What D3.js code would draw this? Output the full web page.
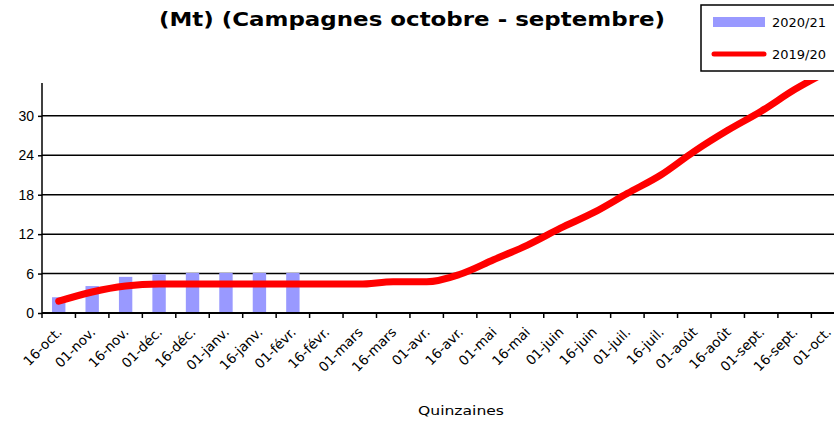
<!DOCTYPE html>
<html>
<head>
<meta charset="utf-8">
<script src="https://cdn.jsdelivr.net/npm/d3@7"></script>
<style>
  body { margin: 0; background: #fff; }
  svg { display: block; font-family: "DejaVu Sans", Verdana, sans-serif; }
</style>
</head>
<body>
<svg id="chart" width="834" height="423"></svg>
<script>
// quinzaines, campagne octobre - septembre
var quinzaines = ["16-oct.", "01-nov.", "16-nov.", "01-déc.", "16-déc.", "01-janv.", "16-janv.", "01-févr.",
  "16-févr.", "01-mars", "16-mars", "01-avr.", "16-avr.", "01-mai", "16-mai", "01-juin", "16-juin",
  "01-juil.", "16-juil.", "01-août", "16-août", "01-sept.", "16-sept.", "01-oct.", ""]
var camp2021 = [2.4, 4.1, 5.5, 5.9, 6.1, 6.1, 6.1, 6.1]
var camp1920 = [1.8, 3.2, 4.1, 4.4, 4.4, 4.4, 4.4, 4.4, 4.4, 4.4, 4.75, 4.75, 5.9, 8.1, 10.3,
  12.9, 15.3, 18.2, 21.0, 24.6, 27.8, 30.7, 34.0, 36.8]
var yTicks = [0, 6, 12, 18, 24, 30]
var seriesNames = ["2020/21", "2019/20"]

var svg = d3.select("#chart")
var plotLeft = 42, plotBottom = 313, plotTop = 83
var x = d3.scaleBand().domain(d3.range(quinzaines.length)).range([plotLeft, plotLeft + quinzaines.length * 33.45])
var y = d3.scaleLinear().domain([0, 35]).range([plotBottom, plotTop])
var plotRight = x.range()[1]

// titre
svg.append("text")
  .attr("x", 412).attr("y", 26)
  .attr("text-anchor", "middle")
  .attr("textLength", 506).attr("lengthAdjust", "spacingAndGlyphs")
  .style("font-size", "20px").style("font-weight", "bold")
  .text("(Mt) (Campagnes octobre - septembre)")

// grille
svg.append("g").selectAll("line")
  .data(yTicks.filter(d => d > 0))
  .enter().append("line")
  .attr("x1", plotLeft).attr("x2", plotRight)
  .attr("y1", d => y(d)).attr("y2", d => y(d))
  .attr("stroke", "#000").attr("stroke-width", 1.5)

// barres 2020/21
var bw = x.bandwidth() * 0.4
svg.append("g").selectAll("rect")
  .data(camp2021)
  .enter().append("rect")
  .attr("x", (d, i) => x(i) + (x.bandwidth() - bw) / 2)
  .attr("width", bw)
  .attr("y", d => y(d))
  .attr("height", d => plotBottom - y(d))
  .attr("fill", "#9999ff")

// axe Y
var yAxis = svg.append("g")
  .attr("transform", "translate(" + plotLeft + ",0)")
  .call(d3.axisLeft(y).tickValues(yTicks).tickSize(4).tickPadding(4))
yAxis.select(".domain").attr("d", "M0," + plotTop + "V" + plotBottom).attr("stroke-width", 1.5)
yAxis.selectAll(".tick line").attr("stroke-width", 1.5)
yAxis.selectAll("text").style("font-size", "14px").attr("fill", "#000")

// axe X
svg.append("line")
  .attr("x1", plotLeft).attr("x2", plotRight)
  .attr("y1", plotBottom).attr("y2", plotBottom)
  .attr("stroke", "#000").attr("stroke-width", 2)
svg.append("g").selectAll("line")
  .data(d3.range(quinzaines.length + 1))
  .enter().append("line")
  .attr("x1", d => plotLeft + d * x.step()).attr("x2", d => plotLeft + d * x.step())
  .attr("y1", plotBottom).attr("y2", plotBottom + 5)
  .attr("stroke", "#000").attr("stroke-width", 1.5)
svg.append("g").selectAll("text")
  .data(quinzaines)
  .enter().append("text")
  .attr("transform", (d, i) => "translate(" + (x(i) + x.bandwidth() / 2 + 4) + "," + (plotBottom + 20) + ") rotate(-45)")
  .attr("text-anchor", "end")
  .style("font-size", "13.5px")
  .text(d => d)

svg.append("text")
  .attr("x", 461).attr("y", 415)
  .attr("text-anchor", "middle")
  .attr("textLength", 86).attr("lengthAdjust", "spacingAndGlyphs")
  .style("font-size", "13px")
  .text("Quinzaines")

// courbe 2019/20
svg.append("clipPath").attr("id", "plot")
  .append("rect").attr("x", plotLeft).attr("y", 80).attr("width", plotRight - plotLeft).attr("height", plotBottom - 80 + 5)
var line = d3.line()
  .x((d, i) => x(i) + x.bandwidth() / 2)
  .y(d => y(d))
  .curve(d3.curveMonotoneX)
svg.append("path")
  .datum(camp1920)
  .attr("clip-path", "url(#plot)")
  .attr("d", line)
  .attr("fill", "none")
  .attr("stroke", "#ff0000")
  .attr("stroke-width", 7)
  .attr("stroke-linecap", "round")

// légende
var leg = svg.append("g")
leg.append("rect")
  .attr("x", 701).attr("y", 5).attr("width", 150).attr("height", 66)
  .attr("fill", "#fff").attr("stroke", "#000").attr("stroke-width", 1.5)
leg.append("rect")
  .attr("x", 713).attr("y", 17).attr("width", 52).attr("height", 10)
  .attr("fill", "#9999ff")
leg.append("line")
  .attr("x1", 714).attr("x2", 764).attr("y1", 54).attr("y2", 54)
  .attr("stroke", "#ff0000").attr("stroke-width", 5).attr("stroke-linecap", "round")
leg.selectAll("text.lab")
  .data(seriesNames)
  .enter().append("text")
  .attr("class", "lab")
  .attr("x", 772).attr("y", (d, i) => 27 + i * 32)
  .style("font-size", "13px")
  .text(d => d)
</script>
</body>
</html>
